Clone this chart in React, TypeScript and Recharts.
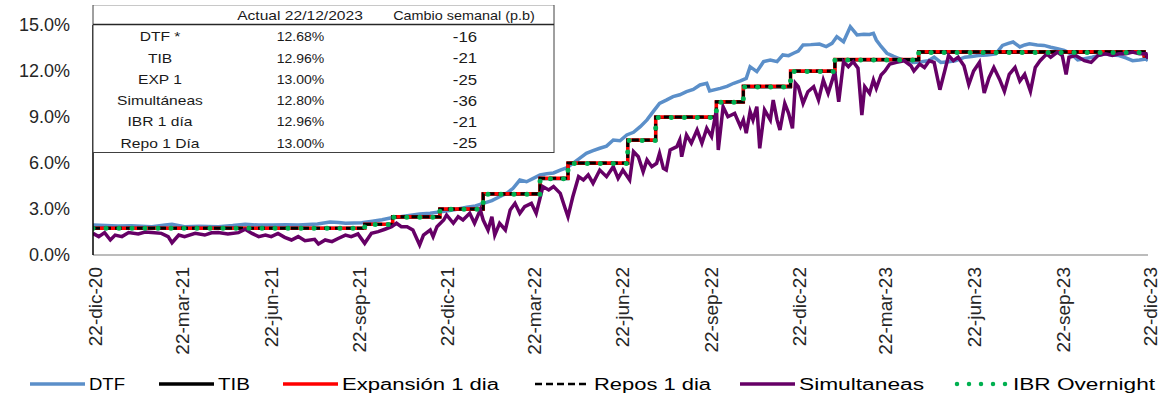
import React from 'react';
import { LineChart, Line, XAxis, YAxis, Legend } from 'recharts';

// x axis: days since 22-dic-2020
const tickDays = [0, 90, 182, 274, 365, 455, 547, 639, 730, 820, 912, 1004, 1095];
const tickLabels = ['22-dic-20', '22-mar-21', '22-jun-21', '22-sep-21', '22-dic-21', '22-mar-22', '22-jun-22', '22-sep-22', '22-dic-22', '22-mar-23', '22-jun-23', '22-sep-23', '22-dic-23'];
const yTicks = [0, 3, 6, 9, 12, 15];

const seriesNames = ['DTF', 'TIB', 'Expansión 1 dia', 'Repos 1 dia', 'Simultaneas', 'IBR Overnight'];

const dtfDays = [0, 13, 26, 40, 61, 75, 82, 95, 110, 130, 145, 158, 172, 186, 200, 213, 233, 246, 255, 262, 279, 290, 300, 311, 319, 330, 339, 350, 363, 375, 388, 397, 405, 414, 422, 430, 436, 443, 450, 457, 464, 471, 478, 485, 492, 498, 505, 512, 519, 526, 533, 540, 547, 554, 561, 568, 575, 582, 588, 595, 602, 609, 616, 623, 630, 637, 640, 651, 658, 665, 672, 678, 682, 689, 696, 703, 710, 716, 722, 727, 732, 737, 745, 754, 761, 767, 772, 779, 786, 793, 800, 806, 810, 813, 818, 824, 831, 838, 845, 852, 860, 867, 873, 880, 888, 895, 905, 912, 919, 928, 937, 944, 950, 955, 962, 967, 972, 980, 987, 994, 1001, 1008, 1015, 1022, 1029, 1037, 1043, 1050, 1058, 1065, 1072, 1079, 1086, 1093, 1095];
const dtfValues = [1.96, 1.93, 1.89, 1.90, 1.85, 1.95, 2.00, 1.85, 1.88, 1.85, 1.92, 2.00, 1.95, 1.96, 1.97, 1.96, 2.02, 2.15, 2.12, 2.07, 2.10, 2.20, 2.30, 2.45, 2.50, 2.60, 2.67, 2.72, 2.83, 2.95, 3.11, 3.20, 3.37, 3.55, 3.80, 4.05, 4.35, 4.89, 4.78, 5.00, 5.22, 5.30, 5.35, 5.54, 5.70, 5.98, 6.30, 6.63, 6.80, 6.96, 7.10, 7.50, 7.45, 7.83, 8.00, 8.37, 8.81, 9.40, 9.89, 10.10, 10.33, 10.45, 10.65, 10.80, 11.09, 11.20, 10.70, 10.87, 11.00, 11.20, 11.35, 11.52, 12.28, 11.96, 12.61, 12.72, 12.61, 13.05, 13.00, 13.16, 13.30, 13.70, 13.72, 13.76, 13.59, 13.80, 14.24, 13.91, 14.89, 14.35, 14.40, 14.38, 14.46, 14.02, 13.60, 13.16, 12.95, 12.78, 12.65, 12.56, 12.60, 12.67, 12.90, 12.56, 12.60, 12.67, 12.90, 12.95, 13.01, 13.05, 13.12, 13.67, 13.80, 13.89, 13.57, 13.70, 13.78, 13.70, 13.67, 13.55, 13.45, 13.34, 13.12, 12.72, 12.80, 12.90, 13.00, 13.12, 13.05, 13.01, 12.85, 12.67, 12.72, 12.78, 12.68];

const simDays = [0, 6, 12, 18, 23, 30, 37, 47, 54, 61, 71, 78, 82, 89, 95, 106, 116, 123, 130, 140, 151, 158, 165, 172, 179, 185, 192, 199, 206, 213, 220, 230, 234, 241, 248, 255, 262, 268, 275, 282, 289, 296, 303, 310, 315, 320, 326, 332, 339, 343, 350, 353, 357, 364, 367, 374, 379, 384, 391, 396, 402, 405, 410, 414, 417, 422, 428, 433, 438, 443, 448, 455, 460, 467, 473, 478, 485, 490, 493, 498, 504, 509, 514, 519, 526, 533, 540, 545, 550, 557, 561, 566, 571, 575, 580, 585, 588, 592, 595, 599, 606, 609, 611, 616, 621, 627, 632, 637, 642, 647, 649, 654, 659, 666, 672, 675, 678, 682, 685, 689, 692, 697, 703, 706, 710, 713, 718, 722, 726, 729, 732, 737, 742, 748, 753, 758, 763, 770, 774, 779, 784, 789, 794, 798, 801, 806, 810, 813, 818, 822, 827, 834, 842, 849, 852, 858, 863, 868, 873, 879, 884, 888, 893, 898, 904, 909, 914, 920, 925, 930, 935, 941, 946, 951, 957, 962, 967, 973, 978, 983, 990, 994, 1001, 1006, 1010, 1013, 1020, 1029, 1036, 1043, 1051, 1058, 1065, 1072, 1079, 1086, 1093, 1095];
const simValues = [1.41, 1.20, 1.46, 0.98, 1.30, 1.20, 1.46, 1.37, 1.50, 1.46, 1.41, 1.20, 0.80, 1.30, 1.20, 1.41, 1.30, 1.45, 1.46, 1.37, 1.46, 1.68, 1.41, 1.20, 1.30, 1.20, 1.41, 1.15, 0.98, 1.20, 0.93, 1.02, 0.72, 0.98, 0.87, 1.09, 1.30, 1.20, 1.37, 0.76, 1.41, 1.52, 1.68, 1.85, 2.07, 1.85, 1.85, 1.63, 0.65, 1.30, 1.63, 1.20, 1.85, 2.28, 2.61, 2.07, 2.50, 2.28, 2.72, 2.07, 2.94, 2.28, 1.63, 2.50, 1.30, 2.07, 1.63, 2.94, 3.37, 2.72, 3.15, 3.37, 2.72, 4.46, 4.24, 4.46, 4.02, 3.05, 2.50, 3.80, 5.11, 4.89, 5.22, 4.68, 5.54, 5.11, 5.76, 5.00, 5.54, 4.89, 6.74, 6.41, 5.43, 6.20, 5.76, 5.98, 6.63, 5.65, 5.54, 6.85, 7.07, 7.50, 6.41, 7.83, 7.29, 8.15, 7.29, 8.26, 7.72, 9.46, 6.85, 9.67, 9.02, 9.24, 8.37, 8.81, 7.94, 9.35, 8.81, 9.67, 6.96, 9.46, 8.81, 10.11, 8.81, 8.15, 9.89, 9.24, 8.26, 11.20, 10.98, 9.89, 10.65, 10.98, 10.11, 11.41, 10.55, 11.96, 10.00, 12.61, 12.28, 12.61, 12.18, 9.13, 10.98, 10.55, 11.41, 10.87, 11.74, 12.00, 12.45, 12.56, 12.67, 12.34, 12.00, 12.45, 12.23, 12.67, 12.56, 10.78, 12.00, 13.01, 12.67, 12.90, 12.34, 11.12, 12.00, 12.56, 10.56, 11.56, 12.23, 11.45, 10.67, 11.78, 12.23, 11.34, 11.78, 10.67, 12.23, 12.67, 13.12, 12.90, 13.23, 13.01, 11.78, 12.90, 13.01, 12.67, 12.56, 13.01, 13.12, 13.01, 13.12, 13.12, 13.23, 13.12, 13.12, 12.80];

// policy-rate step dates (days since 22-dic-2020)
const stepDays = [0, 282, 311, 360, 405, 464, 493, 555, 584, 647, 675, 724, 770, 857, 1091, 1095];
const tibValues = [1.74, 1.99, 2.47, 2.98, 3.96, 4.97, 5.96, 7.47, 8.96, 9.96, 10.96, 11.97, 12.72, 13.21, 12.96, 12.96];
const expValues = [1.75, 2.00, 2.50, 3.00, 4.00, 5.00, 6.00, 7.50, 9.00, 10.00, 11.00, 12.00, 12.75, 13.25, 13.00, 13.00];
const reposValues = [1.75, 2.00, 2.50, 3.00, 4.00, 5.00, 6.00, 7.50, 9.00, 10.00, 11.00, 12.00, 12.75, 13.25, 13.00, 13.00];
const ibrValues = [1.74, 1.99, 2.47, 2.98, 3.96, 4.97, 5.96, 7.47, 8.96, 9.96, 10.96, 11.97, 12.72, 13.21, 12.96, 12.96];

const tableHeader = ['Actual 22/12/2023', 'Cambio semanal (p.b)'];
const tableRows = ['DTF *', 'TIB', 'EXP 1', 'Simultáneas', 'IBR 1 día', 'Repo 1 Día'];
const tableActual = ['12.68%', '12.96%', '13.00%', '12.80%', '12.96%', '13.00%'];
const tableChange = ['-16', '-21', '-25', '-36', '-21', '-25'];

const toRows = (days: number[], vals: number[]) => days.map((d, i) => ({ d, v: vals[i] }));

const dtfData = toRows(dtfDays, dtfValues);
const simData = toRows(simDays, simValues);
const tibData = toRows(stepDays, tibValues);
const expData = toRows(stepDays, expValues);
const reposData = toRows(stepDays, reposValues);
const ibrData = toRows(stepDays, ibrValues);

const FONT = '"Liberation Sans", Arial, sans-serif';
const C_DTF = '#5B8FC9';
const C_SIM = '#660066';
const C_GREEN = '#00B050';

const XTick = (props: any) => {
  const { x, y, payload } = props;
  const i = tickDays.indexOf(payload.value);
  return (
    <g transform={`translate(${x},${y})`}>
      <text transform="rotate(-90)" x={-4} y={2.5} dy="0.36em" textAnchor="end" fontSize={19} fontFamily={FONT} fill="#262626">
        {tickLabels[i]}
      </text>
    </g>
  );
};

const legendLayout = [
  { x: 30, tl: 36 },
  { x: 159, tl: 32 },
  { x: 283, tl: 157 },
  { x: 535, tl: 117 },
  { x: 740, tl: 125 },
  { x: 954, tl: 142 },
];

const LegendContent = () => {
  const cy = 15;
  const strokeFor = (i: number) => {
    if (i === 0) return <line x1={0} y1={cy} x2={55} y2={cy} stroke={C_DTF} strokeWidth={3.5} />;
    if (i === 1) return <line x1={0} y1={cy} x2={55} y2={cy} stroke="#000" strokeWidth={3.5} />;
    if (i === 2) return <line x1={0} y1={cy} x2={55} y2={cy} stroke="#FF0000" strokeWidth={3.5} />;
    if (i === 3) return <line x1={0} y1={cy} x2={55} y2={cy} stroke="#000" strokeWidth={2.5} strokeDasharray="7 4" />;
    if (i === 4) return <line x1={0} y1={cy} x2={55} y2={cy} stroke={C_SIM} strokeWidth={3.5} />;
    return <line x1={3} y1={cy} x2={55} y2={cy} stroke={C_GREEN} strokeWidth={4.5} strokeLinecap="round" strokeDasharray="0 12" />;
  };
  return (
    <svg width={1167} height={30} style={{ display: 'block' }}>
      {seriesNames.map((n, i) => (
        <g key={n} transform={`translate(${legendLayout[i].x},0)`}>
          {strokeFor(i)}
          <text x={59} y={cy} dy="0.36em" fontSize={16} fontFamily={FONT} fill="#000" textLength={legendLayout[i].tl} lengthAdjust="spacingAndGlyphs">
            {n}
          </text>
        </g>
      ))}
    </svg>
  );
};

const TableOverlay = () => {
  const rowY = [36.7, 58.3, 79.5, 100.7, 121.8, 143.3];
  const t = (s: string, cx: number, cy: number, fs: number, sx: number, key: string) => (
    <text key={key} transform={`translate(${cx},${cy}) scale(${sx},1)`} textAnchor="middle" dy="0.36em" fontSize={fs} fontFamily={FONT} fill="#1a1a1a">
      {s}
    </text>
  );
  return (
    <svg width={1167} height={160} style={{ position: 'absolute', left: 0, top: 0, pointerEvents: 'none' }}>
      <rect x={93} y={5.5} width={461} height={147.5} fill="#fff" stroke="none" />
      <line x1={93} y1={5.5} x2={554} y2={5.5} stroke="#c8c8c8" strokeWidth={1} />
      <line x1={93} y1={5} x2={93} y2={153} stroke="#404040" strokeWidth={1} />
      <line x1={554} y1={5} x2={554} y2={153} stroke="#404040" strokeWidth={1} />
      <line x1={93} y1={152.5} x2={554} y2={152.5} stroke="#404040" strokeWidth={1.2} />
      <line x1={93} y1={24.5} x2={554} y2={24.5} stroke="#262626" strokeWidth={1.5} />
      {t(tableHeader[0], 300, 15.5, 12, 1.3, 'h0')}
      {t(tableHeader[1], 464, 15.5, 12, 1.2, 'h1')}
      {tableRows.map((r, i) => t(r, 160, rowY[i], 13, 1.2, 'r' + i))}
      {tableActual.map((r, i) => t(r, 300.5, rowY[i], 13, 1.08, 'a' + i))}
      {tableChange.map((r, i) => t(r, 465, rowY[i], 14, 1.2, 'c' + i))}
    </svg>
  );
};

export default function App() {
  return (
    <div style={{ position: 'absolute', left: 0, top: 0, width: 1167, height: 400, background: '#fff' }}>
      <LineChart width={1167} height={400} margin={{ top: 25, right: 19, bottom: 1, left: 0 }}>
        <XAxis
          type="number"
          dataKey="d"
          domain={[0, 1095]}
          ticks={tickDays}
          interval={0}
          allowDataOverflow
          height={114}
          tick={<XTick />}
          tickLine={false}
          axisLine={{ stroke: '#a6a6a6', strokeWidth: 1.5 }}
        />
        <YAxis
          type="number"
          domain={[0, 15]}
          ticks={yTicks}
          interval={0}
          width={93}
          tickLine={false}
          tickSize={0}
          tickMargin={23}
          axisLine={{ stroke: '#000', strokeWidth: 1.5 }}
          tick={{ fontSize: 18, fontFamily: FONT, fill: '#262626' }}
          tickFormatter={(v: number) => v.toFixed(1) + '%'}
        />
        <Legend verticalAlign="bottom" height={30} content={<LegendContent />} />
        <Line data={dtfData} dataKey="v" name={seriesNames[0]} type="linear" stroke={C_DTF} strokeWidth={3.5} dot={false} activeDot={false} isAnimationActive={false} />
        <Line data={tibData} dataKey="v" name={seriesNames[1]} type="stepAfter" stroke="#000" strokeWidth={3} dot={false} activeDot={false} isAnimationActive={false} />
        <Line data={expData} dataKey="v" name={seriesNames[2]} type="stepAfter" stroke="#FF0000" strokeWidth={3.5} dot={false} activeDot={false} isAnimationActive={false} />
        <Line data={reposData} dataKey="v" name={seriesNames[3]} type="stepAfter" stroke="#000" strokeWidth={3} strokeDasharray="7 4" dot={false} activeDot={false} isAnimationActive={false} />
        <Line data={simData} dataKey="v" name={seriesNames[4]} type="linear" stroke={C_SIM} strokeWidth={3.5} dot={false} activeDot={false} isAnimationActive={false} />
        <Line data={ibrData} dataKey="v" name={seriesNames[5]} type="stepAfter" stroke={C_GREEN} strokeWidth={5} strokeLinecap="round" strokeDasharray="0 13" dot={false} activeDot={false} isAnimationActive={false} />
      </LineChart>
      <TableOverlay />
    </div>
  );
}
